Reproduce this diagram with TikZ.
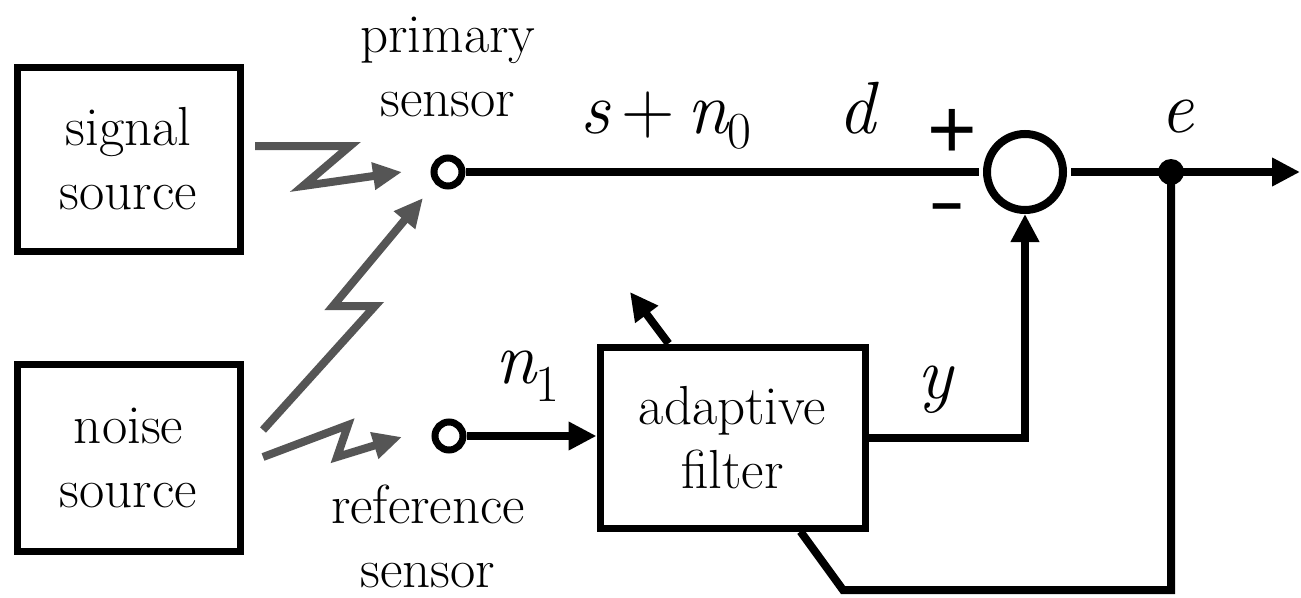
\documentclass[tikz,border=0pt]{standalone}
\usepackage{fontspec}
\newfontfamily\signfont{Liberation Sans}
\usetikzlibrary{arrows.meta,calc}
\definecolor{zig}{RGB}{85,85,85}
\newcommand{\subnum}[2]{\raisebox{-#1}{\upshape\fontsize{52}{52}\selectfont #2}}
\begin{document}
\begin{tikzpicture}[x=1pt,y=-1pt,
  lbl/.style={font=\fontsize{55}{64}\selectfont, align=center, inner sep=0pt},
  mvar/.style={font=\fontsize{74}{74}\selectfont\itshape, inner sep=0pt},
  blk/.style={draw, line width=7pt, inner sep=0pt, align=center, font=\fontsize{55}{64}\selectfont},
  sensor/.style={circle, draw, line width=7pt, minimum size=28pt, inner sep=0pt},
  wire/.style={line width=8pt},
  zz/.style={draw=zig, line width=8pt, line join=miter, -{Triangle[length=29pt,width=26pt]}},
  arr/.style={-{Triangle[length=28pt,width=27pt]}},
]
\useasboundingbox (0,0) rectangle (1301,597);

% blocks
\node[blk, minimum width=223pt, minimum height=184pt] (sig) at (128.5,159) {signal\\source};
\node[blk, minimum width=223pt, minimum height=187pt] (noi) at (128.5,457.5) {noise\\source};
\node[blk, minimum width=265pt, minimum height=181pt] (af) at (732.5,437.5) {adaptive\\filter};

% sensors, summer, junction
\node[sensor] (ps) at (448,172) {};
\node[sensor] (rs) at (449,436) {};
\node[circle, draw, line width=8pt, minimum size=76pt, inner sep=0pt] (sum) at (1025,172) {};
\node[circle, fill, inner sep=0pt, minimum size=26pt] (jn) at (1171,172) {};

% labels
\node[lbl] (pslbl) at (448,67) {primary\\sensor};
\node[lbl] (rslbl) at (428,536) {reference\\sensor};
\node[mvar, anchor=base west] (sn) at (580,133) {s\hspace{12pt}{\upshape+}\hspace{12pt}n\subnum{15pt}{0}};
\node[mvar, anchor=base] (dl) at (857,133) {d};
\node[mvar, anchor=base] (el) at (1177,132) {e};
\node[mvar, anchor=base] (yl) at (935,398) {y};
\node[mvar, anchor=base west] (n1) at (495,383) {n\subnum{18pt}{1}};
\node[font=\signfont\fontsize{85}{85}\selectfont, inner sep=0pt] (plus) at (952,134) {+};
\node[font=\signfont\bfseries\fontsize{56}{56}\selectfont, inner sep=0pt] (minus) at (947,213) {–};

% coordinates
\coordinate (out) at (1300,172);
\coordinate (fbr) at (1171,590);
\coordinate (fbl) at (843,590);
\coordinate (adtip) at (630,292);
\coordinate (z1a) at (255,146);
\coordinate (z1b) at (350,146);
\coordinate (z1c) at (303,186);
\coordinate (z1d) at (402,172);
\coordinate (z2a) at (263,430);
\coordinate (z2b) at (375,306);
\coordinate (z2c) at (333,306);
\coordinate (z2d) at (423,198);
\coordinate (z3a) at (263,457);
\coordinate (z3b) at (348,425);
\coordinate (z3c) at (337,457);
\coordinate (z3d) at (402,437);

% connectors
\draw[wire, shorten >=4pt] (ps) -- (sum);
\draw[wire, arr, shorten <=4pt] (sum) -- (out);
\draw[wire, arr] (rs.east) -- (rs.east -| af.west);
\draw[wire, arr] (af.east) -| (sum.south);
\draw[wire] (jn.center) -- (fbr) -- (fbl) -- ([xshift=68pt]af.south);
\draw[wire, arr] ([xshift=-64pt]af.north) -- (adtip);

% wireless links
\draw[zz] (z1a) -- (z1b) -- (z1c) -- (z1d);
\draw[zz] (z2a) -- (z2b) -- (z2c) -- (z2d);
\draw[zz] (z3a) -- (z3b) -- (z3c) -- (z3d);
\end{tikzpicture}
\end{document}
